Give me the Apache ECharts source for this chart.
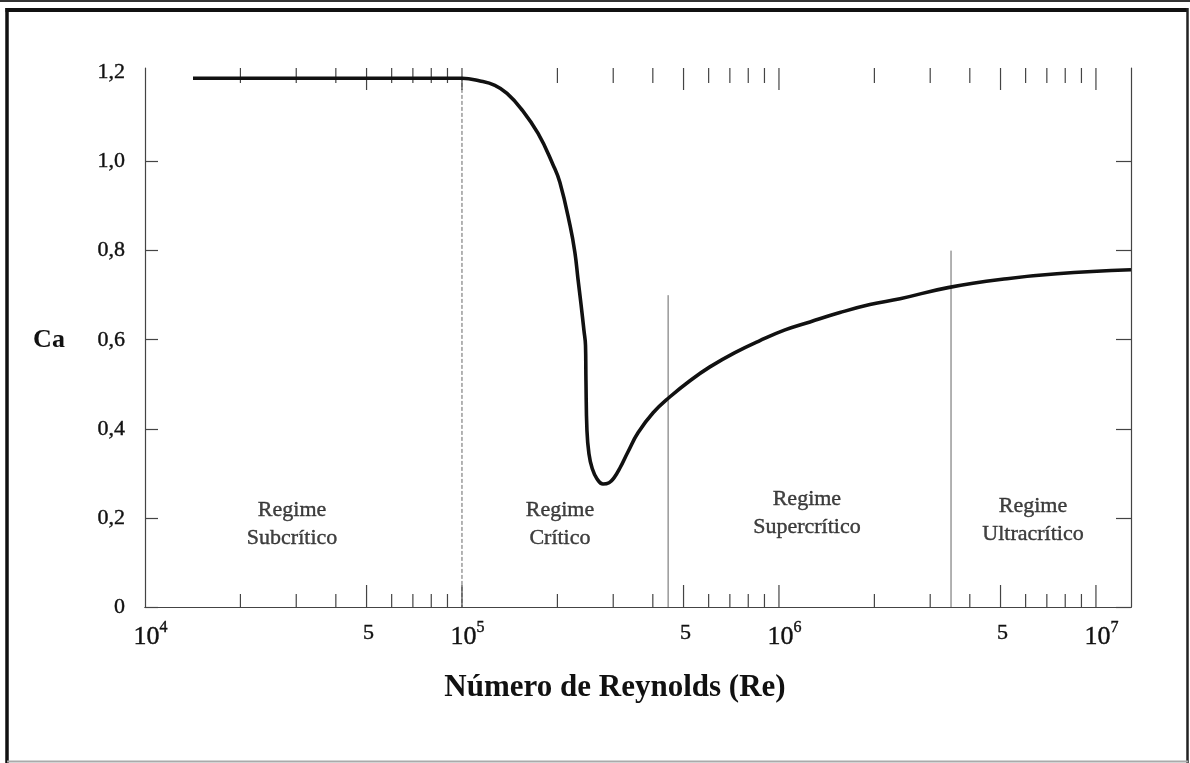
<!DOCTYPE html>
<html>
<head>
<meta charset="utf-8">
<title>Coeficiente de arrasto × Número de Reynolds</title>
<script src="https://cdn.jsdelivr.net/npm/echarts@6/dist/echarts.min.js"></script>
<style>
  html, body { margin: 0; padding: 0; background: #ffffff; }
  #chart { width: 1190px; height: 763px; }
</style>
</head>
<body>
<div id="chart"></div>
<script>
// Drag coefficient of a circular cylinder versus Reynolds number
const reynolds = [14170, 26670, 55110, 100000, 114000, 127000, 138700, 153500, 173800, 193700,
  203700, 219300, 227100, 232200, 237300, 242600, 245300, 246100, 247900, 251500,
  257300, 266500, 278500, 291100, 301700, 315000, 333800, 359200, 400800, 453200,
  523800, 605500, 726300, 870800, 1045000, 1253000, 1557000, 1936000, 2409000, 3414000,
  5240000, 7530000, 12900000];
const dragCoef = [1.187, 1.187, 1.187, 1.187, 1.181, 1.171, 1.153, 1.119, 1.063, 0.993,
  0.953, 0.856, 0.796, 0.737, 0.681, 0.620, 0.587, 0.508, 0.396, 0.344,
  0.312, 0.288, 0.276, 0.279, 0.290, 0.312, 0.348, 0.391, 0.436, 0.472,
  0.508, 0.539, 0.571, 0.598, 0.622, 0.640, 0.661, 0.679, 0.692, 0.717,
  0.737, 0.748, 0.757];

// Regime boundaries (Re) and the height each boundary line reaches (Ca)
const boundaryRe = [100000, 447000, 3490000];
const boundaryTop = [1.19, 0.70, 0.80];

// Regime names and their anchor points in data space
const regimeNames = ['Regime\nSubcrítico', 'Regime\nCrítico', 'Regime\nSupercrítico', 'Regime\nUltracrítico'];
const regimeRe = [29100, 203700, 1225000, 6330000];
const regimeCa = [0.185, 0.185, 0.211, 0.194];

// Log-axis ticks: minor (2..9 × 10^n) and major (5 × 10^n and decades)
const minorTicksRe = [20000, 30000, 40000, 60000, 70000, 80000, 90000,
  200000, 300000, 400000, 600000, 700000, 800000, 900000,
  2000000, 3000000, 4000000, 6000000, 7000000, 8000000, 9000000];
const majorTicksRe = [50000, 100000, 500000, 1000000, 5000000, 10000000];
const fiveLabelsRe = [50000, 500000, 5000000];

// Ca ticks and labels
const caTicks = [0, 0.2, 0.4, 0.6, 0.8, 1.0];
const caLabels = [0, 0.2, 0.4, 0.6, 0.8, 1.0, 1.2];

const reMin = 10000, reMax = 12900000;
const caMin = 0, caMax = 1.21, caStep = 0.2;

const FONT = "'Liberation Serif', 'Times New Roman', serif";
const INK = '#111';
const AXIS = '#444';
// thin outline that thickens the serif glyphs a little
const inkEdge = { textBorderColor: INK, textBorderWidth: 0.4 };

const curve = reynolds.map((r, i) => [r, dragCoef[i]]);

const boundarySeries = boundaryRe.map((r, i) => ({
  type: 'line',
  xAxisIndex: 0, yAxisIndex: 0,
  data: [[r, boundaryTop[i]], [r, 0]],
  symbol: 'none',
  silent: true,
  z: 2,
  lineStyle: { color: '#666', width: 1, type: i === 0 ? [4, 2] : 'solid' }
}));

function tickRenderer(lenBottom, lenTop) {
  return function (params, api) {
    const x = api.value(0);
    const b = api.coord([x, caMin]);
    const t = api.coord([x, caMax]);
    return {
      type: 'group',
      children: [
        { type: 'line', shape: { x1: b[0], y1: b[1], x2: b[0], y2: b[1] - lenBottom },
          style: { stroke: AXIS, lineWidth: 1.2 } },
        { type: 'line', shape: { x1: t[0], y1: t[1], x2: t[0], y2: t[1] + lenTop },
          style: { stroke: AXIS, lineWidth: 1.2 } }
      ]
    };
  };
}

const chart = echarts.init(document.getElementById('chart'), null, { renderer: 'canvas' });

chart.setOption({
  animation: false,
  backgroundColor: '#ffffff',
  grid: { left: 145, right: 59, top: 68, bottom: 156, containLabel: false },
  xAxis: [
    {
      type: 'log', logBase: 10, min: reMin, max: reMax, position: 'bottom',
      axisLine: { show: true, lineStyle: { color: AXIS, width: 1.2 } },
      axisTick: { show: false },
      splitLine: { show: false },
      axisLabel: {
        show: true, margin: 13, interval: 0, hideOverlap: false,
        showMinLabel: true, showMaxLabel: false,
        padding: [0, 0, 0, 11],
        formatter: v => '{b|10}{s|' + Math.round(Math.log10(v)) + '}',
        rich: {
          b: { fontFamily: FONT, fontSize: 26, color: INK, lineHeight: 30, verticalAlign: 'bottom', ...inkEdge },
          s: { fontFamily: FONT, fontSize: 16, color: INK, lineHeight: 16, verticalAlign: 'top', ...inkEdge }
        }
      }
    },
    {
      type: 'log', logBase: 10, min: reMin, max: reMax, position: 'top',
      axisLine: { show: true, lineStyle: { color: AXIS, width: 1.2 } },
      axisTick: { show: false }, axisLabel: { show: false }, splitLine: { show: false }
    }
  ],
  yAxis: [
    {
      type: 'value', min: caMin, max: caMax, interval: caStep, position: 'left',
      axisLine: { show: true, lineStyle: { color: AXIS, width: 1.2 } },
      axisTick: { show: true, inside: true, length: 13, customValues: caTicks, lineStyle: { color: AXIS, width: 1.2 } },
      splitLine: { show: false },
      axisLabel: {
        margin: 20, customValues: caLabels, color: INK, fontFamily: FONT, fontSize: 22, ...inkEdge,
        formatter: v => (v === 0 ? '0' : v.toFixed(1).replace('.', ','))
      }
    },
    {
      type: 'value', min: caMin, max: caMax, interval: caStep, position: 'right',
      axisLine: { show: true, lineStyle: { color: AXIS, width: 1.2 } },
      axisTick: { show: true, inside: true, length: 15, customValues: caTicks, lineStyle: { color: AXIS, width: 1.2 } },
      splitLine: { show: false }, axisLabel: { show: false }
    }
  ],
  series: [
    ...boundarySeries,
    {
      type: 'custom', xAxisIndex: 0, yAxisIndex: 0, silent: true, z: 3,
      data: minorTicksRe.map(r => [r, 0]),
      renderItem: tickRenderer(13, 15)
    },
    {
      type: 'custom', xAxisIndex: 0, yAxisIndex: 0, silent: true, z: 3,
      data: majorTicksRe.map(r => [r, 0]),
      renderItem: tickRenderer(22, 22)
    },
    {
      type: 'custom', xAxisIndex: 0, yAxisIndex: 0, silent: true, z: 3,
      data: fiveLabelsRe.map(r => [r, 0]),
      renderItem: function (params, api) {
        const p = api.coord([api.value(0), caMin]);
        return {
          type: 'text', x: p[0] + 2, y: p[1] + 26,
          style: { text: '5', fontFamily: FONT, fontSize: 22, fill: INK, stroke: INK, lineWidth: 0.4,
            align: 'center', verticalAlign: 'middle' }
        };
      }
    },
    {
      type: 'scatter', xAxisIndex: 0, yAxisIndex: 0, silent: true, z: 4,
      symbolSize: 0,
      data: regimeNames.map((n, i) => ({ name: n, value: [regimeRe[i], regimeCa[i]] })),
      label: {
        show: true, position: 'inside', formatter: p => p.name,
        fontFamily: FONT, fontSize: 22, lineHeight: 28, color: INK, align: 'center', ...inkEdge
      }
    },
    {
      type: 'line', xAxisIndex: 0, yAxisIndex: 0, silent: true, z: 5,
      data: curve,
      symbol: 'none',
      smooth: 0.45,
      lineStyle: { color: '#111', width: 3.6 }
    }
  ],
  graphic: [
    { type: 'line', shape: { x1: 0, y1: 1, x2: 1190, y2: 1 }, style: { stroke: '#333', lineWidth: 2 } },
    { type: 'line', shape: { x1: 5.5, y1: 10, x2: 1188, y2: 10 }, style: { stroke: '#111', lineWidth: 4 } },
    { type: 'line', shape: { x1: 7, y1: 8, x2: 7, y2: 763 }, style: { stroke: '#111', lineWidth: 3.5 } },
    { type: 'line', shape: { x1: 1187.5, y1: 8, x2: 1187.5, y2: 763 }, style: { stroke: '#222', lineWidth: 2.5 } },
    { type: 'line', shape: { x1: 7, y1: 761.5, x2: 1188, y2: 761.5 }, style: { stroke: '#aaa', lineWidth: 2 } },
    {
      type: 'text', x: 49, y: 340,
      style: { text: 'Ca', fontFamily: FONT, fontSize: 26, fontWeight: 'bold', fill: '#111', align: 'center', verticalAlign: 'middle' }
    },
    {
      type: 'text', x: 615, y: 688,
      style: { text: 'Número de Reynolds (Re)', fontFamily: FONT, fontSize: 31, fontWeight: 'bold', fill: '#111', align: 'center', verticalAlign: 'middle' }
    }
  ]
});
</script>
</body>
</html>
